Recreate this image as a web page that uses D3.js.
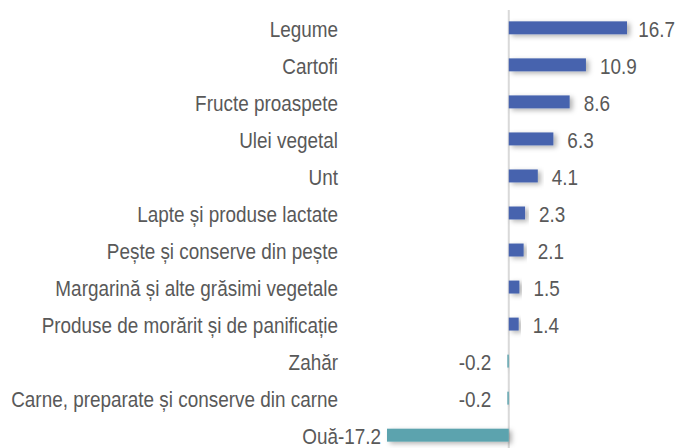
<!DOCTYPE html>
<html>
<head>
<meta charset="utf-8">
<script src="https://cdn.jsdelivr.net/npm/d3@7"></script>
<style>
  html, body { margin: 0; padding: 0; background: #fff; }
  text { font-family: "Liberation Sans Narrow", "Arial Narrow", "Liberation Sans", Arial, sans-serif; fill: #595959; font-size: 22px; }
</style>
</head>
<body>
<div id="chart"></div>
<script>
const categories = [
  'Legume',
  'Cartofi',
  'Fructe proaspete',
  'Ulei vegetal',
  'Unt',
  'Lapte și produse lactate',
  'Pește și conserve din pește',
  'Margarină și alte grăsimi vegetale',
  'Produse de morărit și de panificație',
  'Zahăr',
  'Carne, preparate și conserve din carne',
  'Ouă'
];
const values = [16.7, 10.9, 8.6, 6.3, 4.1, 2.3, 2.1, 1.5, 1.4, -0.2, -0.2, -17.2];

const width = 675, height = 448;
const colorPos = '#4664ae', colorNeg = '#5ba3ae';
const squeeze = 0.86;     // narrow-font look
const labelRight = 338;   // right edge of category labels

const svg = d3.select('#chart')
    .append('svg')
    .attr('width', width)
    .attr('height', height);

const defs = svg.append('defs');
const shadow = defs.append('filter')
    .attr('id', 'shadow')
    .attr('x', '-20%').attr('y', '-50%')
    .attr('width', '140%').attr('height', '220%');
shadow.append('feDropShadow')
    .attr('dx', 3).attr('dy', 2)
    .attr('stdDeviation', 2.5)
    .attr('flood-color', '#000')
    .attr('flood-opacity', 0.3);

const x = d3.scaleLinear().domain([-17.2, 16.7]).range([387, 627]);

const y = d3.scaleBand()
    .domain(categories)
    .range([9.5, 453.5])
    .paddingInner(0.65)
    .paddingOuter(0.32);

// zero axis
svg.append('line')
    .attr('x1', x(0)).attr('x2', x(0))
    .attr('y1', 10).attr('y2', height)
    .attr('stroke', '#d9d9d9')
    .attr('stroke-width', 2);

// bars
svg.selectAll('.bar')
    .data(values)
    .enter()
    .append('rect')
    .attr('class', 'bar')
    .attr('x', d => x(Math.min(0, d)))
    .attr('y', (d, i) => y(categories[i]))
    .attr('width', d => Math.max(1.2, Math.abs(x(d) - x(0))))
    .attr('height', y.bandwidth())
    .attr('fill', d => d < 0 ? colorNeg : colorPos)
    .attr('filter', 'url(#shadow)');

// category labels
svg.selectAll('.cat')
    .data(categories)
    .enter()
    .append('text')
    .attr('class', 'cat')
    .attr('transform', d => `translate(${labelRight},${y(d) + y.bandwidth() / 2}) scale(${squeeze},1)`)
    .attr('dy', '0.4em')
    .attr('text-anchor', 'end')
    .text(d => d);

// value labels, kept inside the chart area like the original
svg.selectAll('.val')
    .data(values)
    .enter()
    .append('text')
    .attr('class', 'val')
    .attr('dy', '0.4em')
    .attr('text-anchor', 'start')
    .text(d => d.toFixed(1))
    .attr('transform', function(d, i) {
      const w = this.getComputedTextLength() * squeeze;
      let left;
      if (d < 0) {
        left = Math.max(x(d) - 16 - w, labelRight);
      } else {
        left = Math.min(x(d) + 14, width - w);
      }
      return `translate(${left},${y(categories[i]) + y.bandwidth() / 2}) scale(${squeeze},1)`;
    });
</script>
</body>
</html>
